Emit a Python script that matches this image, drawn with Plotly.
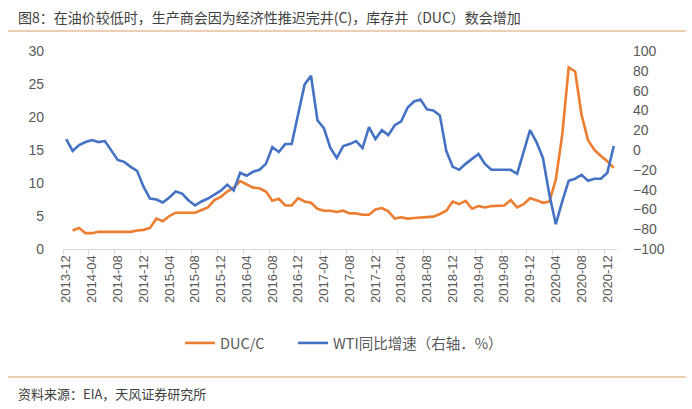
import plotly.graph_objects as go

# ---------------- data ----------------
months = [f"{y}-{m:02d}" for y in range(2013, 2022) for m in range(1, 13)]
months = months[months.index("2013-12"):months.index("2021-01") + 1]

duc_c = [None, 2.8, 3.2, 2.4, 2.4, 2.6, 2.6, 2.6, 2.6, 2.6, 2.6, 2.8, 2.9, 3.2, 4.6, 4.2,
         5.0, 5.5, 5.5, 5.6, 5.5, 5.9, 6.3, 7.4, 7.9, 8.7, 9.3, 10.3, 9.8, 9.3, 9.2, 8.7,
         7.3, 7.6, 6.6, 6.6, 7.7, 7.2, 7.0, 6.1, 5.8, 5.8, 5.6, 5.8, 5.4, 5.4, 5.2, 5.2,
         6.0, 6.2, 5.7, 4.6, 4.8, 4.6, 4.7, 4.8, 4.8, 4.9, 5.3, 5.8, 7.2, 6.8, 7.3, 6.1,
         6.5, 6.3, 6.5, 6.6, 6.6, 7.4, 6.3, 6.8, 7.7, 7.4, 7.0, 7.2, 10.5, 17.3, 27.5, 26.9,
         20.3, 16.5, 15.0, 14.1, 13.3, 12.3]

wti_yoy = [11, -1, 5, 8, 10, 8, 9, -1, -10, -12, -17, -21, -37, -49, -50, -53,
           -48, -42, -44, -51, -56, -52, -49, -45, -41, -35, -41, -23, -26, -22, -20, -14,
           3, -2, 6, 6, 37, 66, 75, 30, 22, 2, -8, 4, 6, 9, 2, 23,
           11, 20, 15, 25, 29, 43, 49, 51, 41, 40, 35, -1, -17, -20, -14, -9,
           -4, -14, -20, -20, -20, -20, -24, -1, 20, 8, -8, -45, -75, -52, -31, -29,
           -25, -31, -29, -29, -23, 4]

title_text = "图8：在油价较低时，生产商会因为经济性推迟完井(C)，库存井（DUC）数会增加"
source_text = "资料来源：EIA，天风证券研究所"
name_duc = "DUC/C"
name_wti = "WTI同比增速（右轴．%）"

# ---------------- figure ----------------
W, H = 692, 409
L, R, T, B = 63, 75, 51, 160
pw, ph = W - L - R, H - T - B

def px(x):
    return (x - L) / pw

def py(y):
    return (H - B - y) / ph

ORANGE = "#ED7D31"
BLUE = "#4472C4"
TXT = "#595959"
CJK = "Noto Sans CJK SC"

fig = go.Figure()
fig.add_trace(go.Scatter(x=months, y=duc_c, name=name_duc, mode="lines",
                         line=dict(color=ORANGE, width=2.6), yaxis="y", legend="legend"))
fig.add_trace(go.Scatter(x=months, y=wti_yoy, name=name_wti, mode="lines",
                         line=dict(color=BLUE, width=2.6), yaxis="y2", legend="legend2"))

leg_common = dict(orientation="h", yanchor="middle", xanchor="left",
                  font=dict(family=CJK, size=14.5, color=TXT),
                  bgcolor="rgba(0,0,0,0)", borderwidth=0)

fig.update_layout(
    width=W, height=H,
    margin=dict(l=L, r=R, t=T, b=B, pad=0),
    paper_bgcolor="white", plot_bgcolor="white",
    font=dict(family=CJK, color=TXT, size=13),
    showlegend=True,
    legend=dict(x=px(180), y=py(343), **leg_common),
    legend2=dict(x=px(293), y=py(343), **leg_common),
    xaxis=dict(type="category", tickson="boundaries", dtick=4, tickangle=-90,
               showgrid=False, showline=True, linecolor="#D9D9D9", linewidth=1,
               ticks="outside", ticklen=5, tickcolor="#D9D9D9",
               tickfont=dict(family="Liberation Sans", size=13, color=TXT),
               zeroline=False, range=[-0.5, len(months) - 0.5]),
    yaxis=dict(range=[0, 30], dtick=5, showgrid=False, zeroline=False, showline=False,
               ticks="", tickfont=dict(family="Liberation Sans", size=14, color=TXT),
               ticklabelstandoff=18),
    yaxis2=dict(range=[-100, 100], dtick=20, overlaying="y", side="right",
                showgrid=False, zeroline=False, showline=False, ticks="",
                tickfont=dict(family="Liberation Sans", size=14, color=TXT),
                ticklabelstandoff=15),
)

fig.add_annotation(text=title_text, xref="paper", yref="paper", x=px(16), y=py(17),
                   xanchor="left", yanchor="middle", showarrow=False,
                   font=dict(family=CJK, size=14, color="#404040"))
fig.add_annotation(text=source_text, xref="paper", yref="paper", x=px(16), y=py(393),
                   xanchor="left", yanchor="middle", showarrow=False,
                   font=dict(family=CJK, size=13, color="#404040"))
fig.add_shape(type="line", xref="paper", yref="paper", x0=px(8), x1=px(686),
              y0=py(31), y1=py(31), line=dict(color="#D9A066", width=1.2))
fig.add_shape(type="line", xref="paper", yref="paper", x0=px(8), x1=px(686),
              y0=py(377), y1=py(377), line=dict(color="#D9A066", width=1.2))

fig.write_html("out.html")
